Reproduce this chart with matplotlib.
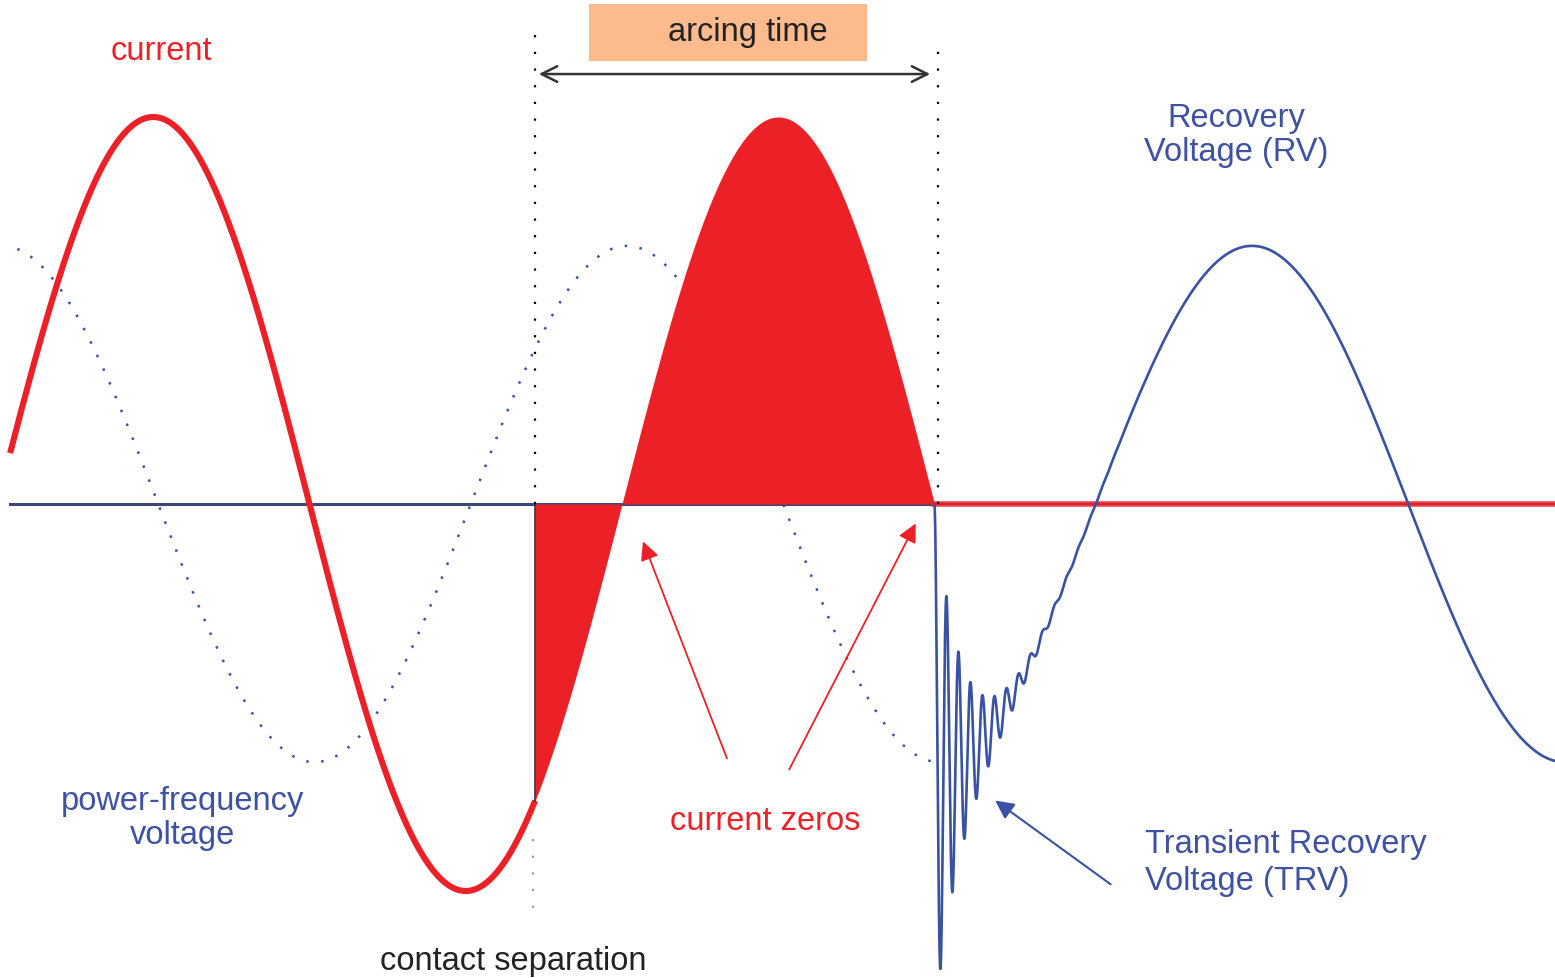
import numpy as np
import matplotlib
matplotlib.use("Agg")
import matplotlib.pyplot as plt
from matplotlib.patches import Rectangle

# ---- data ----
freq_hz = 50.0                 # power frequency
period_ms = 1000.0 / freq_hz   # 20 ms
I_peak = 1.0                   # current amplitude (pu)
V_peak = 0.667                 # voltage amplitude (pu of current axis)
v_lag_ms = 0.16                # small shift of voltage peak
t_start = 0.42                 # first drawn instant (ms)
t_sep = 17.22                  # contact separation (ms)
t_zero = 30.0                  # final current zero / interruption (ms)
t_end = 49.86                  # last drawn instant (ms)
trv_period_ms = 0.384          # TRV oscillation period
trv_tau_ms = 0.86              # TRV damping time constant

RED = "#EC2027"
BLUE = "#3A52A3"
NAVY = "#3B4778"
TXT_BLUE = "#3F51A3"

w = 2 * np.pi / period_ms


def current(t):
    return I_peak * np.sin(w * t)


def voltage(t):
    return V_peak * np.cos(w * (t - v_lag_ms))


plt.rcParams['font.family'] = ['Liberation Sans', 'DejaVu Sans']
fig = plt.figure(figsize=(15.55, 9.79), dpi=100)
ax = fig.add_axes([0, 0, 1, 1])
ax.set_xlim(0.096, 49.856)
ax.set_ylim(-1.2248, 1.3049)
ax.axis('off')

# zero axis
ax.plot([t_start, t_zero], [0, 0], color=NAVY, lw=2.2, zorder=2)
ax.plot([t_zero, t_end], [0, 0], color=NAVY, lw=1.5, zorder=2)
ax.plot([t_zero, t_end], [0, 0], color=RED, lw=4.0, alpha=0.85, zorder=3)

# power-frequency voltage (dotted) before interruption
tv = np.linspace(0.65, t_zero, 2000)
ax.plot(tv, voltage(tv), color=BLUE, lw=1.8, ls=(0, (1, 5.0)), zorder=1)

# recovery voltage with TRV
tr = np.linspace(t_zero, t_end, 40000)
v0 = voltage(t_zero)
trv = voltage(tr) - v0 * np.exp(-(tr - t_zero) / trv_tau_ms) * np.cos(2 * np.pi * (tr - t_zero) / trv_period_ms)
ax.plot(tr, trv, color=BLUE, lw=1.9, zorder=4)

# current before contact separation
tc = np.linspace(t_start, t_sep, 2000)
ax.plot(tc, current(tc), color=RED, lw=4.4, zorder=5, solid_capstyle='butt')

# arcing current (filled)
ta = np.linspace(t_sep, t_zero, 2000)
ax.fill_between(ta, current(ta), 0, color=RED, lw=0, zorder=4)
ax.plot([t_sep, t_sep], [0, current(t_sep)], color='#3a2a2a', lw=1.2, zorder=5)

# vertical dotted markers
ax.plot([t_sep, t_sep], [0, 1.227], color='black', lw=1.6, ls=(0, (1, 6.5)), zorder=6)
ax.plot([t_zero + 0.11, t_zero + 0.11], [0, 1.171], color='black', lw=1.6, ls=(0, (1, 6.5)), zorder=6)
ax.plot([t_sep - 0.06, t_sep - 0.06], [-0.866, -1.075], color='#9a9a9a', lw=1.6, ls=(0, (1, 6.5)), zorder=6)

# arcing time
ax.add_patch(Rectangle((18.944, 1.145), 8.9, 0.147, facecolor='#FDBB8D', edgecolor='none', zorder=6))
ax.text(24.03, 1.222, 'arcing time', fontsize=23.5, color='#222222', ha='center', va='center', zorder=7)
ax.annotate('', xy=(17.25, 1.111), xytext=(29.95, 1.111),
            arrowprops=dict(arrowstyle='<->', color='#333333', lw=1.8, mutation_scale=28), zorder=7)

# texts
ax.text(5.25, 1.173, 'current', fontsize=23.5, color=RED, ha='center', va='center')
ax.text(39.65, 0.955, 'Recovery\nVoltage (RV)', fontsize=23.5, color=TXT_BLUE, ha='center', va='center',
        linespacing=1.15)
ax.text(5.95, -0.81, 'power-frequency\nvoltage', fontsize=23.5, color=TXT_BLUE, ha='center', va='center',
        linespacing=1.12)
ax.text(24.58, -0.819, 'current zeros', fontsize=23.5, color=RED, ha='center', va='center')
ax.text(36.74, -0.925, 'Transient Recovery\nVoltage (TRV)', fontsize=23.5, color=TXT_BLUE, ha='left',
        va='center', linespacing=1.22)
ax.text(16.51, -1.18, 'contact separation', fontsize=23.5, color='#222222', ha='center', va='center')

# arrows
ax.annotate('', xy=(20.64, -0.09), xytext=(23.39, -0.664),
            arrowprops=dict(arrowstyle='-|>', color=RED, lw=1.3, mutation_scale=28))
ax.annotate('', xy=(29.44, -0.044), xytext=(25.31, -0.6925),
            arrowprops=dict(arrowstyle='-|>', color=RED, lw=1.3, mutation_scale=28))
ax.annotate('', xy=(31.87, -0.762), xytext=(35.71, -0.987),
            arrowprops=dict(arrowstyle='-|>', color=BLUE, lw=1.5, mutation_scale=28))

fig.savefig('out.png', dpi=100)
